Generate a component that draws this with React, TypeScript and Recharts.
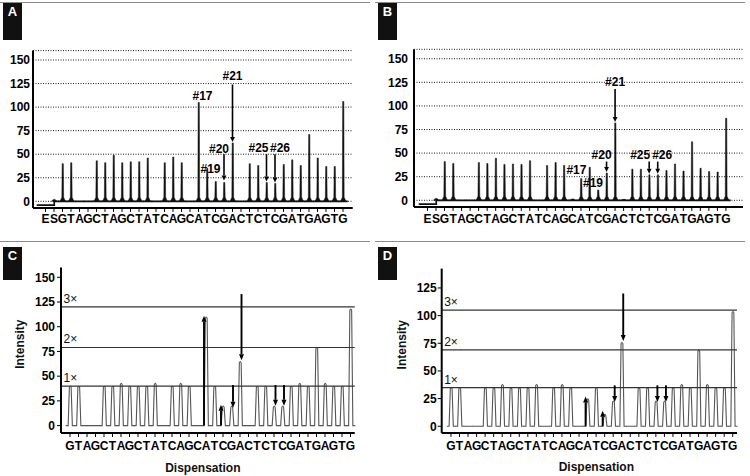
import React from 'react';
import { ComposedChart, Bar, XAxis, YAxis, CartesianGrid, ReferenceLine, ReferenceDot } from 'recharts';

const FONT = '"Liberation Sans", Arial, Helvetica, sans-serif';

// Dispensation orders
const dispensationAB = ['E','S','G','T','A','G','C','T','A','G','C','T','A','T','C','A','G','C','A','T','C','G','A','C','T','C','T','C','G','A','T','G','A','G','T','G'];
const dispensationCD = ['G','T','A','G','C','T','A','G','C','T','A','T','C','A','G','C','A','T','C','G','A','C','T','C','T','C','G','A','T','G','A','G','T','G'];

// Level of the enzyme (E) trace before substrate addition
const startLevelAB = -4;

// Peak heights (observed pyrograms A, B)
const peaksA = [-4, 2, 40, 41, 0, 0, 43, 41, 49, 41, 42, 42, 46, 0, 41, 47, 41, 0, 105, 35, 21, 20, 62, 0, 40, 38, 20, 19, 39, 44, 38, 71, 46, 37, 37, 106];
const peaksB = [-4, 2, 41, 39, 0, 0, 40, 39, 44.5, 38, 38.5, 38, 42, 0, 37, 40, 37, 1.5, 23, 35, 11, 29, 82, 1, 33, 33, 27, 27, 31.5, 38.5, 31, 62, 34, 30.5, 30, 87];
// Simulated pyrograms C, D
const peaksC = [40, 40, 0, 0, 40, 40, 43, 40, 40, 40, 43, 0, 40, 43, 40, 0, 110, 40, 20, 20, 65, 0, 40, 40, 20, 20, 40, 43, 40, 79, 43, 40, 40, 118];
const peaksD = [35, 35, 0, 0, 35, 35, 38, 35, 35, 35, 38, 0, 35, 38, 35, 0, 25, 35, 11, 23, 76, 0, 35, 35, 23, 23, 35, 38, 35, 69, 38, 35, 35, 104];

const ticksAB = [0, 25, 50, 75, 100, 125, 150];
const ticksC = [0, 25, 50, 75, 100, 125, 150];
const ticksD = [0, 25, 50, 75, 100, 125];

const levelNames = ['1×', '2×', '3×'];
const levelsC = [40, 79, 120];
const levelsD = [35, 69, 105];

// Arrows: dispensation index, from value, to value
const arrowsA = [
  { at: 22, from: 124, to: 63 },
  { at: 21, from: 50, to: 22 },
  { at: 26, from: 50, to: 21 },
  { at: 27, from: 50, to: 20 },
];
const arrowsB = [
  { at: 22, from: 118, to: 83 },
  { at: 21, from: 41, to: 30 },
  { at: 26, from: 41, to: 28 },
  { at: 27, from: 41, to: 28 },
];
const arrowsC = [
  { at: 16, from: 0, to: 111 },
  { at: 18, from: 0, to: 21 },
  { at: 19, from: 41, to: 18 },
  { at: 20, from: 133, to: 66 },
  { at: 24, from: 41, to: 20 },
  { at: 25, from: 41, to: 20 },
];
const arrowsD = [
  { at: 16, from: 0, to: 27 },
  { at: 18, from: 0, to: 14 },
  { at: 19, from: 37, to: 22 },
  { at: 20, from: 120, to: 77 },
  { at: 24, from: 37, to: 22 },
  { at: 25, from: 37, to: 22 },
];

// Annotation labels: text, dispensation index, value of label centre, horizontal nudge
const labelsA = [
  { text: '#17', at: 18, y: 112, dx: 4 },
  { text: '#19', at: 20, y: 34, dx: -5 },
  { text: '#20', at: 21, y: 56, dx: -5 },
  { text: '#21', at: 22, y: 133, dx: 0 },
  { text: '#25', at: 26, y: 57, dx: -8 },
  { text: '#26', at: 27, y: 57, dx: 5 },
];
const labelsB = [
  { text: '#17', at: 18, y: 32, dx: -4.5 },
  { text: '#19', at: 20, y: 18.6, dx: -5 },
  { text: '#20', at: 21, y: 48.7, dx: -5 },
  { text: '#21', at: 22, y: 125.6, dx: 0 },
  { text: '#25', at: 26, y: 48.7, dx: -9 },
  { text: '#26', at: 27, y: 48.7, dx: 4.5 },
];

type Entry = { i: number; peak: number; base: number; prevBase: number };

function buildData(peaks: number[], startLevel?: number): Entry[] {
  const bases = peaks.map((_, i) => (i === 0 && startLevel !== undefined ? startLevel : 0));
  return peaks.map((p, i) => ({ i, peak: p, base: bases[i], prevBase: i > 0 ? bases[i - 1] : bases[i] }));
}

const PeakAB = (props: any) => {
  const { x, y, width, height, payload } = props;
  if (x == null || y == null || !payload) return <g />;
  const cx = x + width / 2;
  const by = y + height;
  const ty = y;
  const rise = payload.peak - payload.base;
  let py = by;
  if (payload.prevBase !== payload.base && rise > 0) {
    const ppu = height / rise;
    py = by + (payload.base - payload.prevBase) * ppu;
  }
  const xl = payload.i === 0 ? x - width * 0.5 : x;
  const line = `M${xl},${py} H${cx} V${by} H${x + width}`;
  const mid = Math.max(ty, by - 4);
  const spike = `${cx - 2.7},${by} ${cx - 0.9},${mid} ${cx - 0.6},${ty} ${cx + 0.6},${ty} ${cx + 0.9},${mid} ${cx + 2.7},${by}`;
  return (
    <g>
      <path d={line} stroke="#111" strokeWidth={1.7} fill="none" />
      {rise > 0 && <polygon points={spike} fill="#111" stroke="#111" strokeWidth={0.5} />}
    </g>
  );
};

const PeakCD = (props: any) => {
  const { x, y, width, height, payload } = props;
  if (x == null || y == null || !payload) return <g />;
  const cx = x + width / 2;
  const by = y + height;
  const ty = y;
  const rise = payload.peak - payload.base;
  const d = rise > 0
    ? `M${x},${by} H${cx - 2.1} L${cx - 0.9},${ty + 1.5} Q${cx},${ty - 1} ${cx + 0.9},${ty + 1.5} L${cx + 2.1},${by} H${x + width}`
    : `M${x},${by} H${x + width}`;
  return <path d={d} stroke="#555" strokeWidth={1.1} fill="none" />;
};

const makeArrow = (w: number, head: number, headW: number, shiftUp: number, shiftDown: number) => (p: any) => {
  const { x1, y1, y2 } = p;
  if (x1 == null) return <g />;
  const down = y2 > y1;
  const xs = x1 + (down ? shiftDown : shiftUp);
  const dir = down ? 1 : -1;
  const hb = y2 - dir * head;
  return (
    <g>
      <line x1={xs} y1={y1} x2={xs} y2={hb} stroke="#000" strokeWidth={w} />
      <polygon points={`${xs - headW},${hb} ${xs + headW},${hb} ${xs},${y2}`} fill="#000" />
    </g>
  );
};

const makeText = (text: string, dx: number, weight: string | number) => (p: any) => (
  <text x={p.cx + dx} y={p.cy + 4.2} textAnchor="middle" fontSize={12} fontWeight={weight} fill="#000" fontFamily={FONT}>
    {text}
  </text>
);

type ABProps = {
  peaks: number[];
  arrows: { at: number; from: number; to: number }[];
  labels: { text: string; at: number; y: number; dx: number }[];
  margin: { top: number; right: number; bottom: number; left: number };
  yWidth: number;
  xHeight: number;
  padL: number;
  padR: number;
  yTickMargin: number;
  xTickMargin: number;
};

function PanelAB(props: ABProps) {
  const data = buildData(props.peaks, startLevelAB);
  const arrow = makeArrow(1.6, 5, 2.4, 0, 0);
  return (
    <ComposedChart width={375} height={238} data={data} margin={props.margin} barCategoryGap={0} barGap={0} style={{ fontFamily: FONT }}>
      <CartesianGrid horizontal vertical={false} stroke="#1a1a1a" strokeDasharray="1 1.5" />
      <XAxis
        dataKey="i"
        type="category"
        interval={0}
        tickFormatter={(v: any) => dispensationAB[v]}
        height={props.xHeight}
        padding={{ left: props.padL, right: props.padR }}
        axisLine={{ stroke: '#000', strokeWidth: 2 }}
        tickLine={{ stroke: '#000', strokeWidth: 1 }}
        tickSize={4}
        tickMargin={props.xTickMargin}
        tick={{ fill: '#000', fontSize: 12, fontWeight: 'bold', fontFamily: FONT }}
      />
      <YAxis
        type="number"
        domain={[-7, 160]}
        ticks={ticksAB}
        allowDataOverflow
        width={props.yWidth}
        axisLine={{ stroke: '#000', strokeWidth: 2 }}
        tickLine={false}
        tickSize={0}
        tickMargin={props.yTickMargin}
        tick={{ fill: '#000', fontSize: 12, fontWeight: 'bold', fontFamily: FONT }}
      />
      <Bar dataKey={(d: Entry) => [d.base, d.peak]} isAnimationActive={false} shape={PeakAB} />
      {props.arrows.map((a, k) => (
        <ReferenceLine
          key={'a' + k}
          position="middle"
          segment={[{ x: a.at, y: a.from }, { x: a.at, y: a.to }]}
          shape={arrow}
        />
      ))}
      {props.labels.map((l, k) => (
        <ReferenceDot key={'l' + k} x={l.at} y={l.y} r={0} shape={makeText(l.text, l.dx, 'bold')} />
      ))}
    </ComposedChart>
  );
}

type CDProps = {
  peaks: number[];
  arrows: { at: number; from: number; to: number }[];
  levels: number[];
  ticks: number[];
  domain: [number, number];
  margin: { top: number; right: number; bottom: number; left: number };
  yWidth: number;
  xHeight: number;
  padL: number;
  yTickMargin: number;
  xTickMargin: number;
  titleDx: number;
  intensityX: number;
};

function PanelCD(props: CDProps) {
  const data = buildData(props.peaks);
  const arrow = makeArrow(1.9, 6, 2.5, -2, 1.5);
  return (
    <ComposedChart width={375} height={238} data={data} margin={props.margin} barCategoryGap={0} barGap={0} style={{ fontFamily: FONT }}>
      <XAxis
        dataKey="i"
        type="category"
        interval={0}
        tickFormatter={(v: any) => dispensationCD[v]}
        height={props.xHeight}
        padding={{ left: props.padL, right: 0 }}
        axisLine={{ stroke: '#000', strokeWidth: 2 }}
        tickLine={{ stroke: '#000', strokeWidth: 1 }}
        tickSize={4}
        tickMargin={props.xTickMargin}
        tick={{ fill: '#000', fontSize: 12, fontWeight: 'bold', fontFamily: FONT }}
        label={{
          value: 'Dispensation',
          content: (p: any) => {
            const vb = p.viewBox || {};
            return (
              <text x={vb.x + vb.width / 2 + props.titleDx} y={vb.y + 38.5} textAnchor="middle" fontSize={12} fontWeight="bold" fill="#111" fontFamily={FONT}>
                Dispensation
              </text>
            );
          },
        }}
      />
      <YAxis
        type="number"
        domain={props.domain}
        ticks={props.ticks}
        allowDataOverflow
        width={props.yWidth}
        axisLine={{ stroke: '#000', strokeWidth: 2 }}
        tickLine={{ stroke: '#000', strokeWidth: 1 }}
        tickSize={4}
        tickMargin={props.yTickMargin}
        tick={{ fill: '#000', fontSize: 12, fontWeight: 'bold', fontFamily: FONT }}
        label={{
          value: 'Intensity',
          content: (p: any) => {
            const vb = p.viewBox || {};
            const cx = vb.x + props.intensityX;
            const cy = vb.y + vb.height / 2 - 6;
            return (
              <text x={cx} y={cy} transform={`rotate(-90, ${cx}, ${cy})`} dy={4.2} textAnchor="middle" fontSize={12} fontWeight="bold" fill="#111" fontFamily={FONT}>
                Intensity
              </text>
            );
          },
        }}
      />
      <YAxis yAxisId="r" orientation="right" type="number" domain={props.domain} allowDataOverflow width={0} tick={false} tickLine={false} axisLine={{ stroke: '#000', strokeWidth: 2 }} />
      {props.levels.map((v, k) => (
        <ReferenceLine
          key={'lv' + k}
          y={v}
          stroke="#333"
          strokeWidth={1.2}
          label={{
            value: levelNames[k],
            content: (p: any) => {
              const vb = p.viewBox || {};
              return (
                <text x={vb.x + 2.5} y={vb.y - 4} fontSize={12} fill="#111" fontFamily={FONT}>
                  {levelNames[k]}
                </text>
              );
            },
          }}
        />
      ))}
      <Bar dataKey={(d: Entry) => [d.base, d.peak]} isAnimationActive={false} shape={PeakCD} />
      {props.arrows.map((a, k) => (
        <ReferenceLine
          key={'a' + k}
          position="middle"
          segment={[{ x: a.at, y: a.from }, { x: a.at, y: a.to }]}
          shape={arrow}
        />
      ))}
    </ComposedChart>
  );
}

const Rule = ({ left, top }: { left: number; top: number }) => (
  <div style={{ position: 'absolute', left, top, width: 370, height: 1, background: '#8c8c8c' }} />
);

const Tag = ({ left, top, h, text }: { left: number; top: number; h: number; text: string }) => (
  <div
    style={{
      position: 'absolute', left, top, width: 19, height: h, background: '#111', color: '#fff',
      fontFamily: FONT, fontWeight: 'bold', fontSize: 13, lineHeight: '15px', textAlign: 'center', paddingTop: 1, boxSizing: 'border-box',
    }}
  >
    {text}
  </div>
);

export default function App() {
  return (
    <div style={{ position: 'absolute', left: 0, top: 0, width: 750, height: 476, background: '#fff', overflow: 'hidden' }}>
      <div style={{ position: 'absolute', left: 0, top: 0 }}>
        <PanelAB
          peaks={peaksA}
          arrows={arrowsA}
          labels={labelsA}
          margin={{ top: 50.6, right: 22.3, bottom: 0, left: 0 }}
          yWidth={33}
          xHeight={30.1}
          padL={8.25}
          padR={5.45}
          yTickMargin={3}
          xTickMargin={3}
        />
      </div>
      <div style={{ position: 'absolute', left: 375, top: 0 }}>
        <PanelAB
          peaks={peaksB}
          arrows={arrowsB}
          labels={labelsB}
          margin={{ top: 49.3, right: 7, bottom: 0, left: 0 }}
          yWidth={39}
          xHeight={31.1}
          padL={9.2}
          padR={12.8}
          yTickMargin={6}
          xTickMargin={3.2}
        />
      </div>
      <div style={{ position: 'absolute', left: 0, top: 238 }}>
        <PanelCD
          peaks={peaksC}
          arrows={arrowsC}
          levels={levelsC}
          ticks={ticksC}
          domain={[-7.5, 160]}
          margin={{ top: 29.4, right: 20.25, bottom: 0, left: 0 }}
          yWidth={61}
          xHeight={43}
          padL={4.75}
          yTickMargin={2}
          xTickMargin={4.8}
          titleDx={-5}
          intensityX={20}
        />
      </div>
      <div style={{ position: 'absolute', left: 375, top: 238 }}>
        <PanelCD
          peaks={peaksD}
          arrows={arrowsD}
          levels={levelsD}
          ticks={ticksD}
          domain={[-6, 142.5]}
          margin={{ top: 30.6, right: 13, bottom: 0, left: 0 }}
          yWidth={66.7}
          xHeight={43.1}
          padL={5}
          yTickMargin={1}
          xTickMargin={4.8}
          titleDx={7}
          intensityX={26.7}
        />
      </div>
      <Rule left={0} top={2} />
      <Rule left={375} top={2} />
      <Rule left={0} top={241} />
      <Rule left={375} top={241} />
      <Tag left={3} top={3} h={37} text="A" />
      <Tag left={378} top={3} h={37} text="B" />
      <Tag left={3} top={247} h={33} text="C" />
      <Tag left={378} top={247} h={33} text="D" />
    </div>
  );
}
